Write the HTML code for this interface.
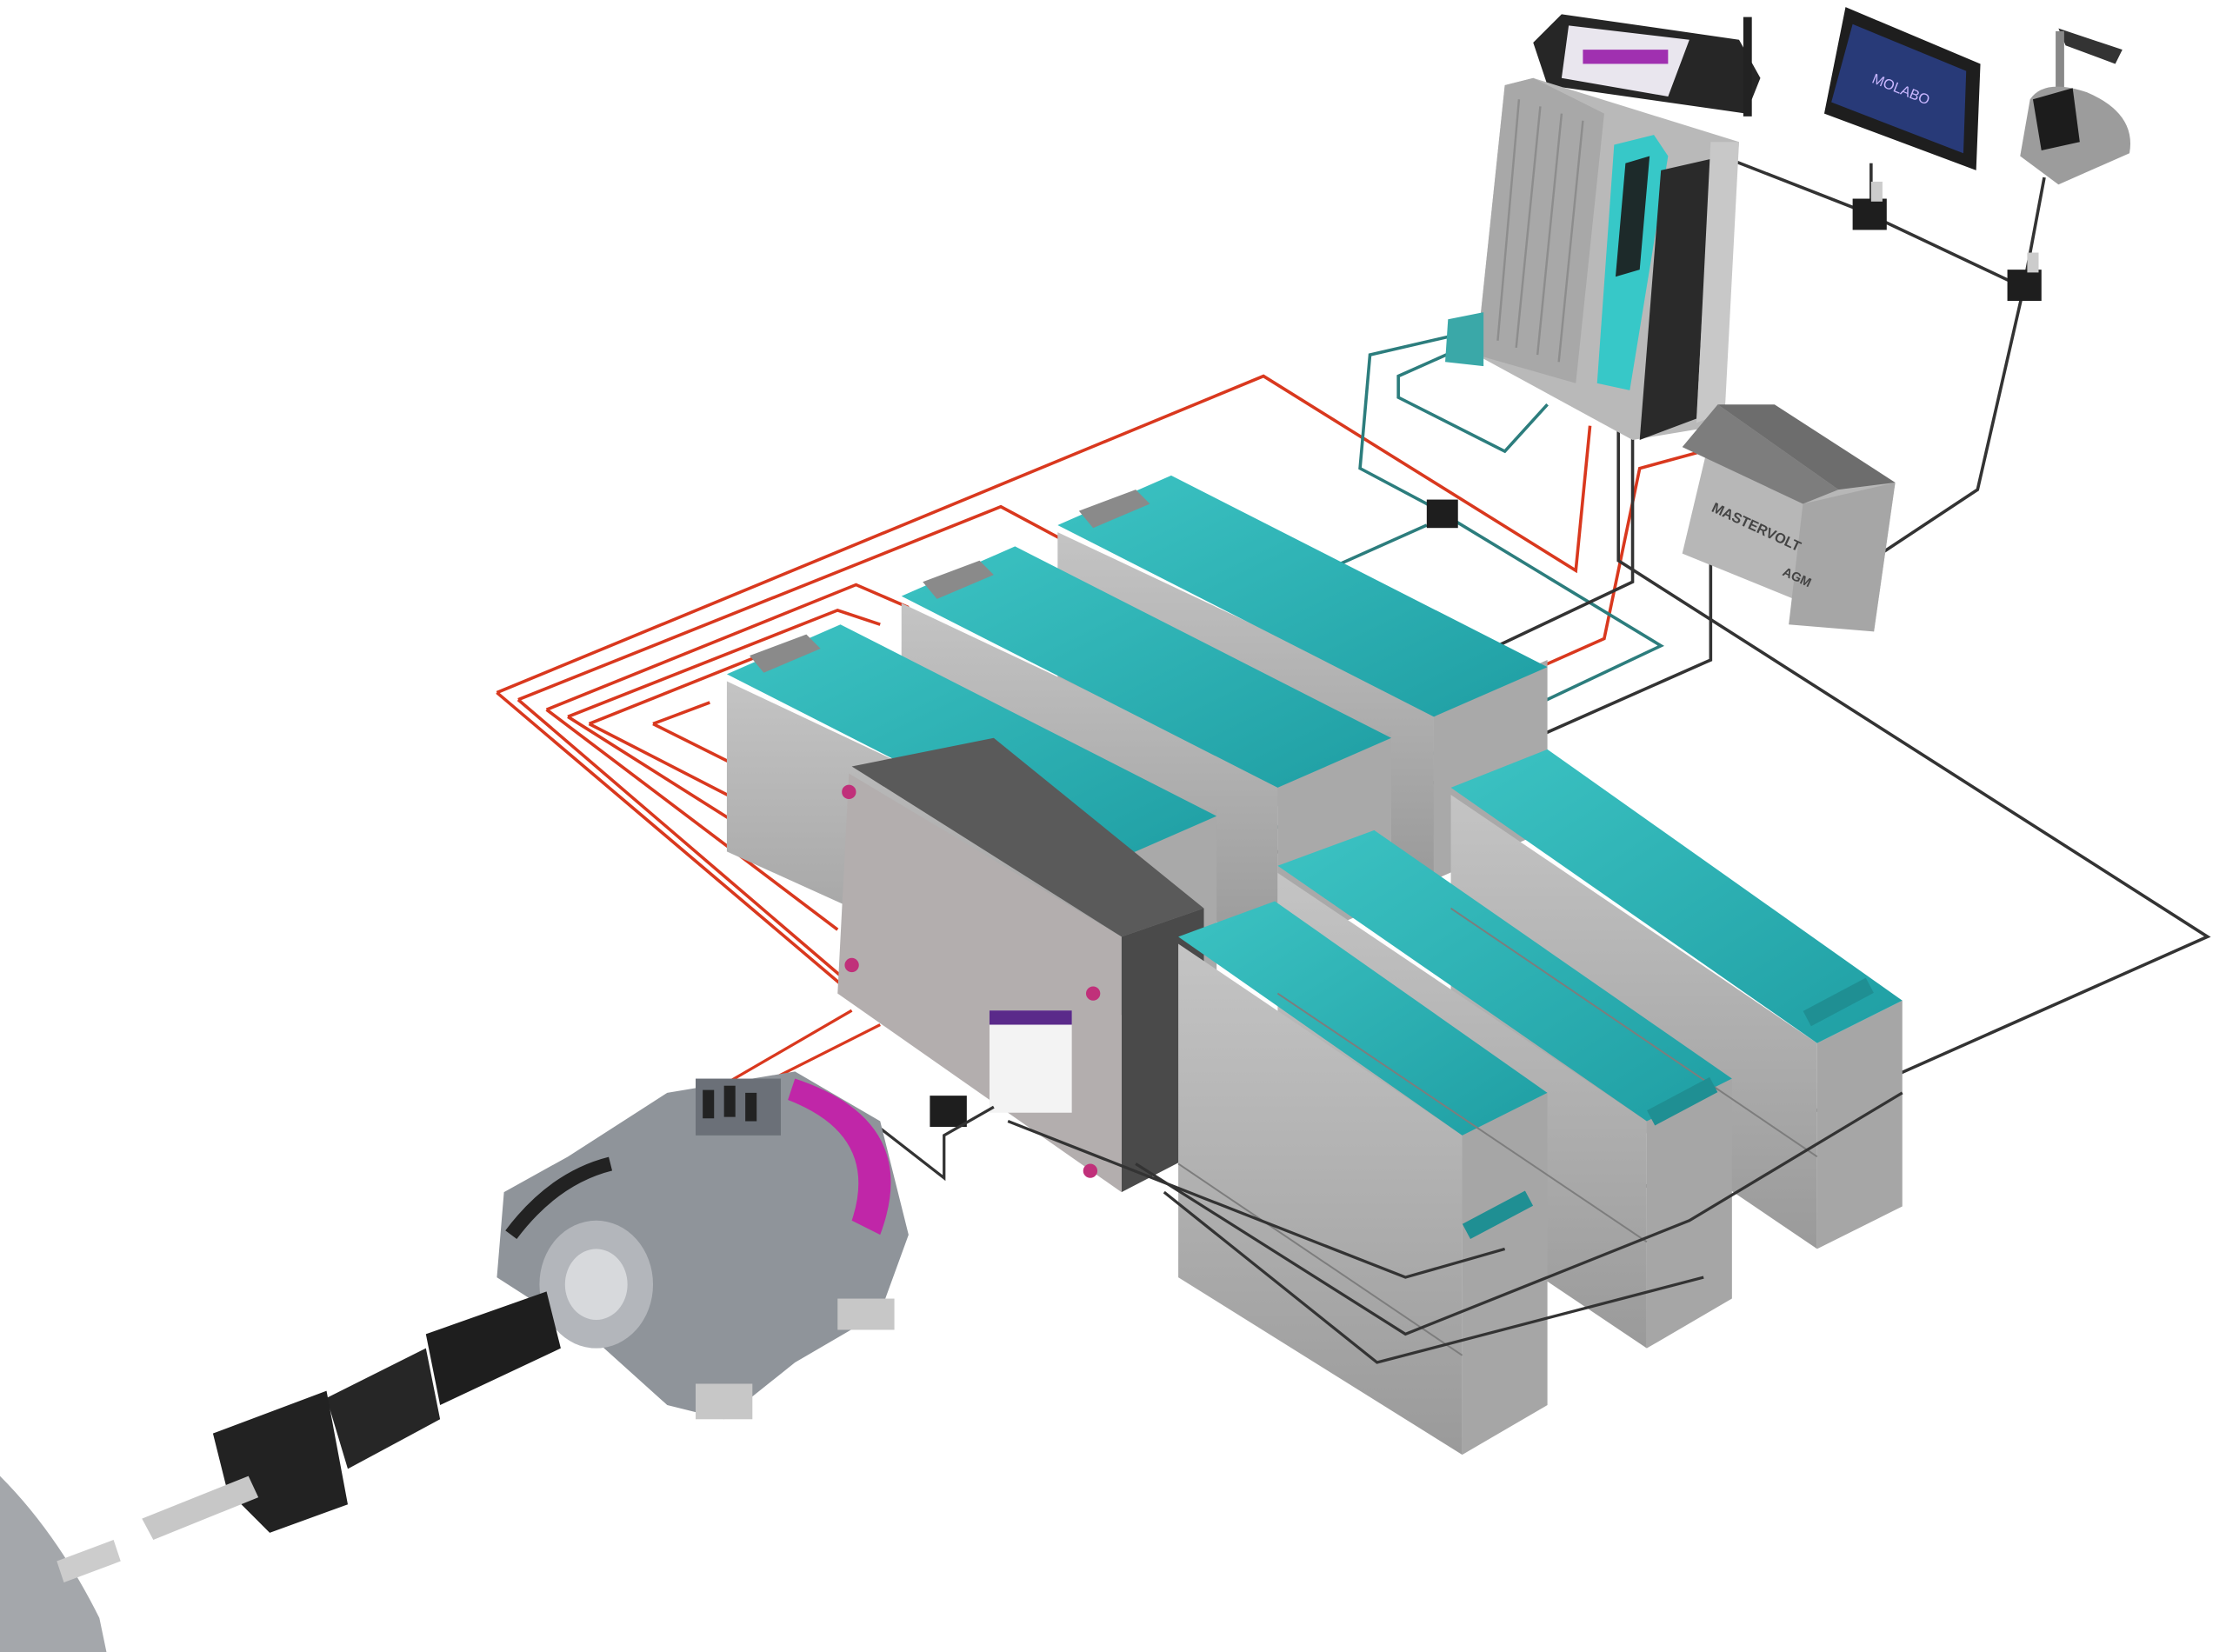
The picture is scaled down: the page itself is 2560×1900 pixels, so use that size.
<!DOCTYPE html>
<html><head><meta charset="utf-8"><style>
html,body{margin:0;padding:0;background:#fff;width:2560px;height:1900px;overflow:hidden}
svg{display:block}
text{font-family:"Liberation Sans",sans-serif}
</style></head><body>
<svg width="2560" height="1900" viewBox="0 0 1568 1164" preserveAspectRatio="none" xmlns="http://www.w3.org/2000/svg">
<rect width="1568" height="1164" fill="#fff"/>
<defs>
<linearGradient id="tl" x1="0" y1="0" x2="1" y2="1"><stop offset="0" stop-color="#3cc3c3"/><stop offset="1" stop-color="#1f9ea3"/></linearGradient>
<linearGradient id="gs" x1="0" y1="0" x2="0" y2="1"><stop offset="0" stop-color="#c4c4c4"/><stop offset="1" stop-color="#9a9a9a"/></linearGradient>
</defs>

<!-- wires behind -->
<g fill="none" stroke-width="2.2">
<polyline stroke="#d9381e" points="350,488 890,265 1110,402 1120,300"/>
<polyline stroke="#d9381e" points="365,493 705,357 748,380"/>
<polyline stroke="#d9381e" points="385,500 603,412 640,428"/>
<polyline stroke="#d9381e" points="400,505 590,430 620,440"/>
<polyline stroke="#d9381e" points="415,510 540,460 515,470"/>
<polyline stroke="#d9381e" points="460,510 500,495"/>
<polyline stroke="#d9381e" points="350,488 600,700"/>
<polyline stroke="#d9381e" points="365,493 595,690"/>
<polyline stroke="#d9381e" points="385,500 590,655"/>
<polyline stroke="#d9381e" points="400,505 590,625"/>
<polyline stroke="#d9381e" points="415,510 590,600"/>
<polyline stroke="#d9381e" points="460,510 590,575"/>
<polyline stroke="#d9381e" points="780,605 1130,450 1155,330 1210,315"/>
<polyline stroke="#2c7d7d" points="1030,235 965,250 958,330 1005,355 1170,455 800,630"/>
<polyline stroke="#2c7d7d" points="1030,245 985,265 985,280 1060,318 1090,285"/>
<polyline stroke="#2c7d7d" points="1005,370 920,408 920,420"/>
<polyline stroke="#333" points="1200,105 1310,148 1420,200 1425,195"/>
<polyline stroke="#333" points="1318,115 1318,148"/>
<polyline stroke="#333" points="1440,125 1425,205 1393,345 1325,390"/>
<polyline stroke="#333" points="1140,300 1140,395 1555,660 1060,880"/>
<polyline stroke="#333" points="1150,305 1150,410 960,500"/>
<polyline stroke="#333" points="1280,355 1205,390 1205,465 810,640"/>
</g>

<!-- top devices -->
<polygon points="1080,30 1100,10 1225,28 1240,55 1230,80 1090,60" fill="#262626"/>
<polygon points="1105,18 1190,28 1175,68 1100,55" fill="#e9e6ee"/>
<rect x="1115" y="35" width="60" height="10" fill="#a030b0"/>
<rect x="1228" y="12" width="6" height="70" fill="#222"/>
<polygon points="1060,60 1080,55 1225,100 1210,300 1150,310 1040,250" fill="#b9b9b9"/>
<polygon points="1060,60 1080,55 1130,80 1110,270 1040,250" fill="#a8a8a8"/>
<g stroke="#8d8d8d" stroke-width="1.5"><line x1="1070" y1="70" x2="1055" y2="240"/><line x1="1085" y1="75" x2="1068" y2="245"/><line x1="1100" y1="80" x2="1083" y2="250"/><line x1="1115" y1="85" x2="1098" y2="255"/></g>
<polygon points="1137,102 1165,95 1175,110 1148,275 1125,270" fill="#37c8c8"/>
<polygon points="1145,115 1162,110 1155,190 1138,195" fill="#1d2a2a"/>
<polygon points="1170,120 1205,112 1195,295 1155,310" fill="#2a2a2a"/>
<polygon points="1205,100 1225,100 1215,290 1195,298" fill="#c8c8c8"/>
<polygon points="1020,225 1045,220 1045,258 1018,255" fill="#3aa8a8"/>

<polygon points="1300,5 1395,45 1392,120 1285,80" fill="#1e1e1e"/>
<polygon points="1305,17 1385,50 1383,108 1290,72" fill="#283a78"/>
<text x="1318" y="58" fill="#c9b7ff" font-size="10" transform="rotate(22 1318 58)">MOLABO</text>
<polygon points="1450,20 1495,35 1490,45 1455,32" fill="#333"/>
<rect x="1448" y="22" width="6" height="55" fill="#888"/>
<path d="M1430,70 Q1440,55 1470,65 Q1505,80 1500,108 L1450,130 L1423,110 Z" fill="#9c9c9c"/>
<polygon points="1432,70 1460,62 1465,100 1438,106" fill="#1c1c1c"/>
<rect x="1305" y="140" width="24" height="22" fill="#1e1e1e"/>
<rect x="1414" y="190" width="24" height="22" fill="#1e1e1e"/>
<rect x="1318" y="128" width="8" height="14" fill="#ccc"/>
<rect x="1428" y="178" width="8" height="14" fill="#ccc"/>

<!-- AGM battery -->
<polygon points="1210,285 1335,340 1320,445 1185,390" fill="#b7b7b7"/>
<polygon points="1210,285 1250,285 1335,340 1295,345" fill="#6d6d6d"/>
<polygon points="1185,315 1210,285 1295,345 1270,355 1185,315" fill="#7d7d7d"/>
<polygon points="1270,355 1335,340 1320,445 1260,440" fill="#a6a6a6"/>
<text x="1205" y="360" font-size="10" font-weight="bold" fill="#444" transform="rotate(25 1205 360)">MASTERVOLT</text>
<text x="1255" y="405" font-size="9" font-weight="bold" fill="#444" transform="rotate(25 1255 405)">AGM</text>

<!-- Batteries -->
<g id="batts">
<!-- C -->
<polygon points="745,375 1010,500 1010,620 745,495" fill="url(#gs)"/>
<polygon points="1010,500 1090,465 1090,585 1010,620" fill="#a9a9a9"/>
<polygon points="745,370 825,335 1090,470 1010,505" fill="url(#tl)"/>
<polygon points="760,360 800,345 810,355 770,372" fill="#8a8a8a"/>
<!-- B -->
<polygon points="635,425 900,550 900,670 635,545" fill="url(#gs)"/>
<polygon points="900,550 980,515 980,635 900,670" fill="#a9a9a9"/>
<polygon points="635,420 715,385 980,520 900,555" fill="url(#tl)"/>
<polygon points="650,410 690,395 700,405 660,422" fill="#8a8a8a"/>
<!-- A -->
<polygon points="512,480 777,605 777,720 512,600" fill="url(#gs)"/>
<polygon points="777,605 857,570 857,690 777,720" fill="#a9a9a9"/>
<polygon points="512,475 592,440 857,575 777,610" fill="url(#tl)"/>
<polygon points="528,462 568,447 578,457 538,474" fill="#8a8a8a"/>
</g>

<!-- Box -->
<polygon points="600,540 700,520 848,640 790,660" fill="#5a5a5a"/>
<polygon points="790,660 848,640 848,810 790,840" fill="#4a4a4a"/>
<polygon points="598,545 790,660 790,840 590,700" fill="#b3aeae"/>
<rect x="697" y="712" width="58" height="72" fill="#f3f3f3" transform="skewY(0)"/>
<rect x="697" y="712" width="58" height="10" fill="#5a2a8a"/>
<g fill="#c0307a"><circle cx="598" cy="558" r="5"/><circle cx="600" cy="680" r="5"/><circle cx="770" cy="700" r="5"/><circle cx="768" cy="825" r="5"/></g>

<!-- front batteries -->
<!-- F -->
<polygon points="1022,560 1280,735 1280,880 1022,705" fill="url(#gs)"/>
<polygon points="1280,735 1340,705 1340,850 1280,880" fill="#a6a6a6"/>
<polygon points="1022,555 1090,528 1340,705 1280,735" fill="url(#tl)"/>
<!-- E -->
<polygon points="900,615 1160,790 1160,950 900,775" fill="url(#gs)"/>
<polygon points="1160,790 1220,760 1220,915 1160,950" fill="#a6a6a6"/>
<polygon points="900,610 968,585 1220,760 1160,790" fill="url(#tl)"/>
<!-- D -->
<polygon points="830,665 1030,800 1030,1025 830,900" fill="url(#gs)"/>
<polygon points="1030,800 1090,770 1090,990 1030,1025" fill="#a6a6a6"/>
<polygon points="830,660 898,635 1090,770 1030,800" fill="url(#tl)"/>
<g stroke="#7d7d7d" stroke-width="1.2" fill="none">
<line x1="830" y1="820" x2="1030" y2="955"/><line x1="900" y1="700" x2="1160" y2="875"/><line x1="1022" y1="640" x2="1280" y2="815"/>
</g>
<g stroke="#333" stroke-width="2" fill="none">
<polyline points="710,790 990,900 1060,880"/><polyline points="800,820 990,940 1190,860 1340,770"/><polyline points="820,840 970,960 1200,900"/>
</g>
<g fill="#1f8f93"><rect x="1030" y="850" width="50" height="12" transform="rotate(-28 1055 856)"/><rect x="1160" y="770" width="50" height="12" transform="rotate(-28 1185 776)"/><rect x="1270" y="700" width="50" height="12" transform="rotate(-28 1295 706)"/></g>

<!-- small connectors -->
<rect x="655" y="772" width="26" height="22" fill="#1e1e1e"/>
<rect x="1005" y="352" width="22" height="20" fill="#1e1e1e"/>
<g fill="none" stroke="#333" stroke-width="2"><polyline points="620,795 665,830 665,800 700,780"/></g>
<g fill="none" stroke="#d9381e" stroke-width="2"><polyline points="600,712 500,770"/><polyline points="620,722 515,775"/></g>

<!-- Motor -->
<path d="M470,770 L560,755 L620,790 L640,870 L620,925 L560,960 L510,1000 L470,990 L420,945 L350,900 L355,840 L400,815 Z" fill="#8f949a"/>
<path d="M560,760 Q650,790 620,870 L600,860 Q620,800 555,775Z" fill="#c026a8"/>
<rect x="490" y="760" width="60" height="40" fill="#6b7078"/>
<g fill="#222"><rect x="495" y="768" width="8" height="20"/><rect x="510" y="765" width="8" height="22"/><rect x="525" y="770" width="8" height="20"/></g>
<path d="M360,870 Q390,830 430,820" stroke="#222" stroke-width="10" fill="none"/>
<ellipse cx="420" cy="905" rx="40" ry="45" fill="#b3b6bb"/>
<ellipse cx="420" cy="905" rx="22" ry="25" fill="#d7d9dc"/>
<polygon points="300,940 385,910 395,950 310,990" fill="#1e1e1e"/>
<polygon points="230,985 300,950 310,1000 245,1035" fill="#262626"/>
<polygon points="150,1010 230,980 245,1060 190,1080 160,1050" fill="#222"/>
<polygon points="100,1070 175,1040 182,1055 108,1085" fill="#c7c7c7"/>
<g fill="#c7c7c7"><rect x="490" y="975" width="40" height="25"/><rect x="590" y="915" width="40" height="22"/></g>
<!-- hull bit -->
<path d="M0,1040 Q40,1080 70,1140 L75,1164 L0,1164 Z" fill="#a4a7ab"/>
<polygon points="40,1100 80,1085 85,1100 45,1115" fill="#ccc"/>
</svg>
</body></html>
